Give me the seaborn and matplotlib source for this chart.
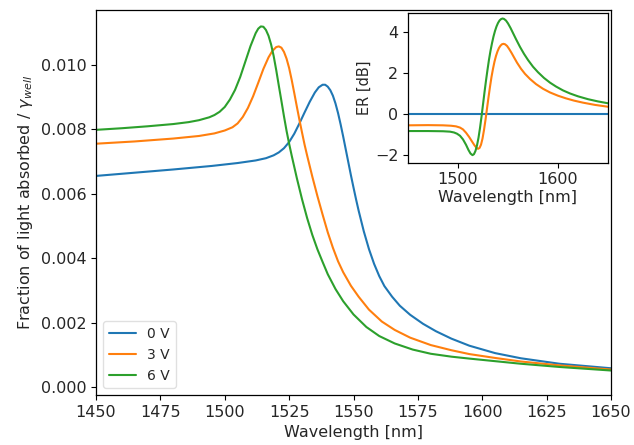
import numpy as np
import pandas as pd
import matplotlib
matplotlib.use("Agg")
import matplotlib.pyplot as plt
import seaborn as sns

# ---------------- data ----------------
wl_0v = [1450, 1465, 1480, 1495, 1505, 1512, 1516, 1519, 1521, 1523, 1525, 1527, 1529,
         1531, 1533, 1535, 1536.5, 1538, 1539, 1540, 1541, 1542, 1543, 1544, 1545, 1546,
         1547, 1548, 1549, 1550, 1551, 1552, 1554, 1556, 1558, 1560, 1562, 1565, 1568,
         1572, 1577, 1582, 1588, 1595, 1605, 1615, 1630, 1650]
abs_0v = [0.00655, 0.00665, 0.00675, 0.00686, 0.00695, 0.00703, 0.00710, 0.00719, 0.00728,
          0.00741, 0.00760, 0.00786, 0.00818, 0.00852, 0.00885, 0.00914, 0.00930, 0.00938,
          0.00938, 0.00932, 0.00921, 0.00904, 0.00880, 0.00850, 0.00815, 0.00777, 0.00737,
          0.00697, 0.00657, 0.00619, 0.00582, 0.00547, 0.00483, 0.00428, 0.00382, 0.00344,
          0.00313, 0.00280, 0.00252, 0.00224, 0.00196, 0.00173, 0.00150, 0.00128, 0.00105,
          0.00089, 0.00072, 0.00058]

wl_3v = [1450, 1465, 1480, 1490, 1496, 1500, 1503, 1505, 1507, 1509, 1511, 1513, 1515,
         1517, 1518.5, 1520, 1521, 1522, 1523, 1524, 1525, 1526, 1527, 1528, 1529, 1530,
         1531, 1532, 1534, 1536, 1538, 1540, 1542, 1544, 1546, 1549, 1552, 1556, 1561,
         1566, 1572, 1580, 1588, 1595, 1605, 1615, 1630, 1650]
abs_3v = [0.00755, 0.00762, 0.00771, 0.00779, 0.00787, 0.00796, 0.00806, 0.00818, 0.00838,
          0.00866, 0.00902, 0.00944, 0.00987, 0.01023, 0.01043, 0.01055, 0.01057, 0.01053,
          0.01040, 0.01019, 0.00990, 0.00953, 0.00912, 0.00870, 0.00829, 0.00790, 0.00752,
          0.00718, 0.00653, 0.00592, 0.00535, 0.00480, 0.00432, 0.00390, 0.00356, 0.00314,
          0.00280, 0.00240, 0.00203, 0.00177, 0.00153, 0.00130, 0.00114, 0.00102, 0.00090,
          0.00079, 0.00067, 0.00054]

wl_6v = [1450, 1460, 1470, 1480, 1486, 1490, 1494, 1496, 1498, 1500, 1502, 1504, 1506,
         1508, 1510, 1512, 1513, 1514, 1515, 1516, 1517, 1518, 1519, 1520, 1521, 1522,
         1523, 1524, 1525, 1526, 1528, 1530, 1532, 1534, 1536, 1538, 1540, 1543, 1546,
         1550, 1555, 1560, 1566, 1573, 1580, 1588, 1595, 1605, 1615, 1630, 1650]
abs_6v = [0.00798, 0.00803, 0.00809, 0.00816, 0.00822, 0.00828, 0.00837, 0.00844, 0.00854,
          0.00869, 0.00892, 0.00922, 0.00962, 0.01010, 0.01058, 0.01098, 0.01112, 0.01119,
          0.01118, 0.01108, 0.01090, 0.01063, 0.01027, 0.00983, 0.00935, 0.00888, 0.00840,
          0.00795, 0.00755, 0.00718, 0.00648, 0.00583, 0.00524, 0.00472, 0.00427, 0.00388,
          0.00350, 0.00304, 0.00266, 0.00225, 0.00186, 0.00158, 0.00135, 0.00116, 0.00103,
          0.00094, 0.00088, 0.00080, 0.00072, 0.00062, 0.00051]

er_wl_0v = [1450, 1650]
er_0v = [0.0, 0.0]

er_wl_3v = [1450, 1470, 1485, 1493, 1498, 1502, 1505, 1508, 1511, 1514, 1516.5, 1518.5,
            1520, 1521.5, 1523, 1524.5, 1526, 1527.5, 1529, 1530.5, 1532, 1533.5, 1535,
            1536.5, 1538, 1539.5, 1541, 1542.5, 1544, 1545.5, 1547, 1549, 1551, 1553.5,
            1556, 1559, 1563, 1567, 1572, 1578, 1585, 1592, 1600, 1608, 1616, 1625, 1637, 1650]
er_3v = [-0.57, -0.56, -0.57, -0.59, -0.62, -0.68, -0.77, -0.93, -1.13, -1.36, -1.55, -1.67,
         -1.72, -1.68, -1.52, -1.22, -0.80, -0.30, 0.25, 0.80, 1.32, 1.80, 2.20, 2.55, 2.83,
         3.05, 3.22, 3.33, 3.40, 3.42, 3.40, 3.32, 3.18, 2.98, 2.76, 2.50, 2.20, 1.95, 1.70,
         1.45, 1.22, 1.04, 0.88, 0.75, 0.64, 0.54, 0.43, 0.34]

er_wl_6v = [1450, 1470, 1485, 1492, 1496, 1499, 1502, 1505, 1508, 1510.5, 1512.5, 1514.5,
            1516, 1517.5, 1519, 1520.5, 1522, 1523.5, 1525, 1526.5, 1528, 1529.5, 1531,
            1532.5, 1534, 1535.5, 1537, 1538.5, 1540, 1541.5, 1543, 1544.5, 1546, 1548,
            1550, 1552.5, 1555, 1558, 1562, 1566, 1570, 1575, 1580, 1586, 1592, 1598, 1605,
            1612, 1620, 1630, 1640, 1650]
er_6v = [-0.85, -0.85, -0.86, -0.88, -0.92, -0.98, -1.08, -1.26, -1.52, -1.78, -1.95, -2.03,
         -1.98, -1.82, -1.55, -1.18, -0.70, -0.15, 0.45, 1.05, 1.62, 2.15, 2.65, 3.08, 3.45,
         3.78, 4.05, 4.27, 4.44, 4.56, 4.63, 4.66, 4.64, 4.56, 4.42, 4.20, 3.95, 3.65, 3.27,
         2.93, 2.63, 2.30, 2.03, 1.75, 1.52, 1.33, 1.14, 0.99, 0.85, 0.71, 0.60, 0.51]

labels = ["0 V", "3 V", "6 V"]
main_x_ticks = [1450, 1475, 1500, 1525, 1550, 1575, 1600, 1625, 1650]
main_y_ticks = [0.000, 0.002, 0.004, 0.006, 0.008, 0.010]
inset_x_ticks = [1500, 1600]
inset_y_ticks = [-2, 0, 2, 4]

# ---------------- styling ----------------
sns.set_style("ticks")
plt.rcParams["font.family"] = ["DejaVu Sans"]
colors = sns.color_palette("tab10", 3)
FS = 11.5

fig = plt.figure(figsize=(6.34, 4.45), dpi=100)
ax = fig.add_axes([96 / 634, 1 - 395 / 445, (611 - 96) / 634, (395 - 10) / 445])

main_series = [(wl_0v, abs_0v), (wl_3v, abs_3v), (wl_6v, abs_6v)]
for (xs, ys), lab, col in zip(main_series, labels, colors):
    df = pd.DataFrame({"wl": xs, "val": ys})
    sns.lineplot(data=df, x="wl", y="val", ax=ax, color=col, label=lab, linewidth=1.5)

ax.set_xlim(1450, 1650)
ax.set_ylim(-0.00025, 0.0117)
ax.set_xticks(main_x_ticks)
ax.set_yticks(main_y_ticks)
ax.set_yticklabels([f"{v:.3f}" for v in main_y_ticks])
ax.tick_params(labelsize=FS, color="black", labelcolor="#262626")
ax.set_xlabel("Wavelength [nm]", fontsize=FS, color="#262626")
ax.set_ylabel(r"Fraction of light absorbed / $\gamma_{well}$", fontsize=FS, color="#262626")
for s in ax.spines.values():
    s.set_color("black")
    s.set_linewidth(0.9)
leg = ax.legend(loc="lower left", fontsize=10, frameon=True)
leg.get_frame().set_edgecolor("#d9d9d9")

# ---------------- inset ----------------
ins = fig.add_axes([408 / 634, 1 - 162.7 / 445, (608 - 408) / 634, (162.7 - 13) / 445])
inset_series = [(er_wl_0v, er_0v), (er_wl_3v, er_3v), (er_wl_6v, er_6v)]
for (xs, ys), col in zip(inset_series, colors):
    df = pd.DataFrame({"wl": xs, "er": ys})
    sns.lineplot(data=df, x="wl", y="er", ax=ins, color=col, linewidth=1.5, legend=False)
ins.set_xlim(1450, 1650)
ins.set_ylim(-2.4, 4.93)
ins.set_xticks(inset_x_ticks)
ins.set_yticks(inset_y_ticks)
ins.tick_params(labelsize=FS, color="black", labelcolor="#262626")
ins.set_xlabel("Wavelength [nm]", fontsize=FS, color="#262626", labelpad=2)
ins.set_ylabel("ER [dB]", fontsize=FS - 1, color="#262626", labelpad=2)
for s in ins.spines.values():
    s.set_color("black")
    s.set_linewidth(0.9)

fig.savefig("out.png", dpi=100)
